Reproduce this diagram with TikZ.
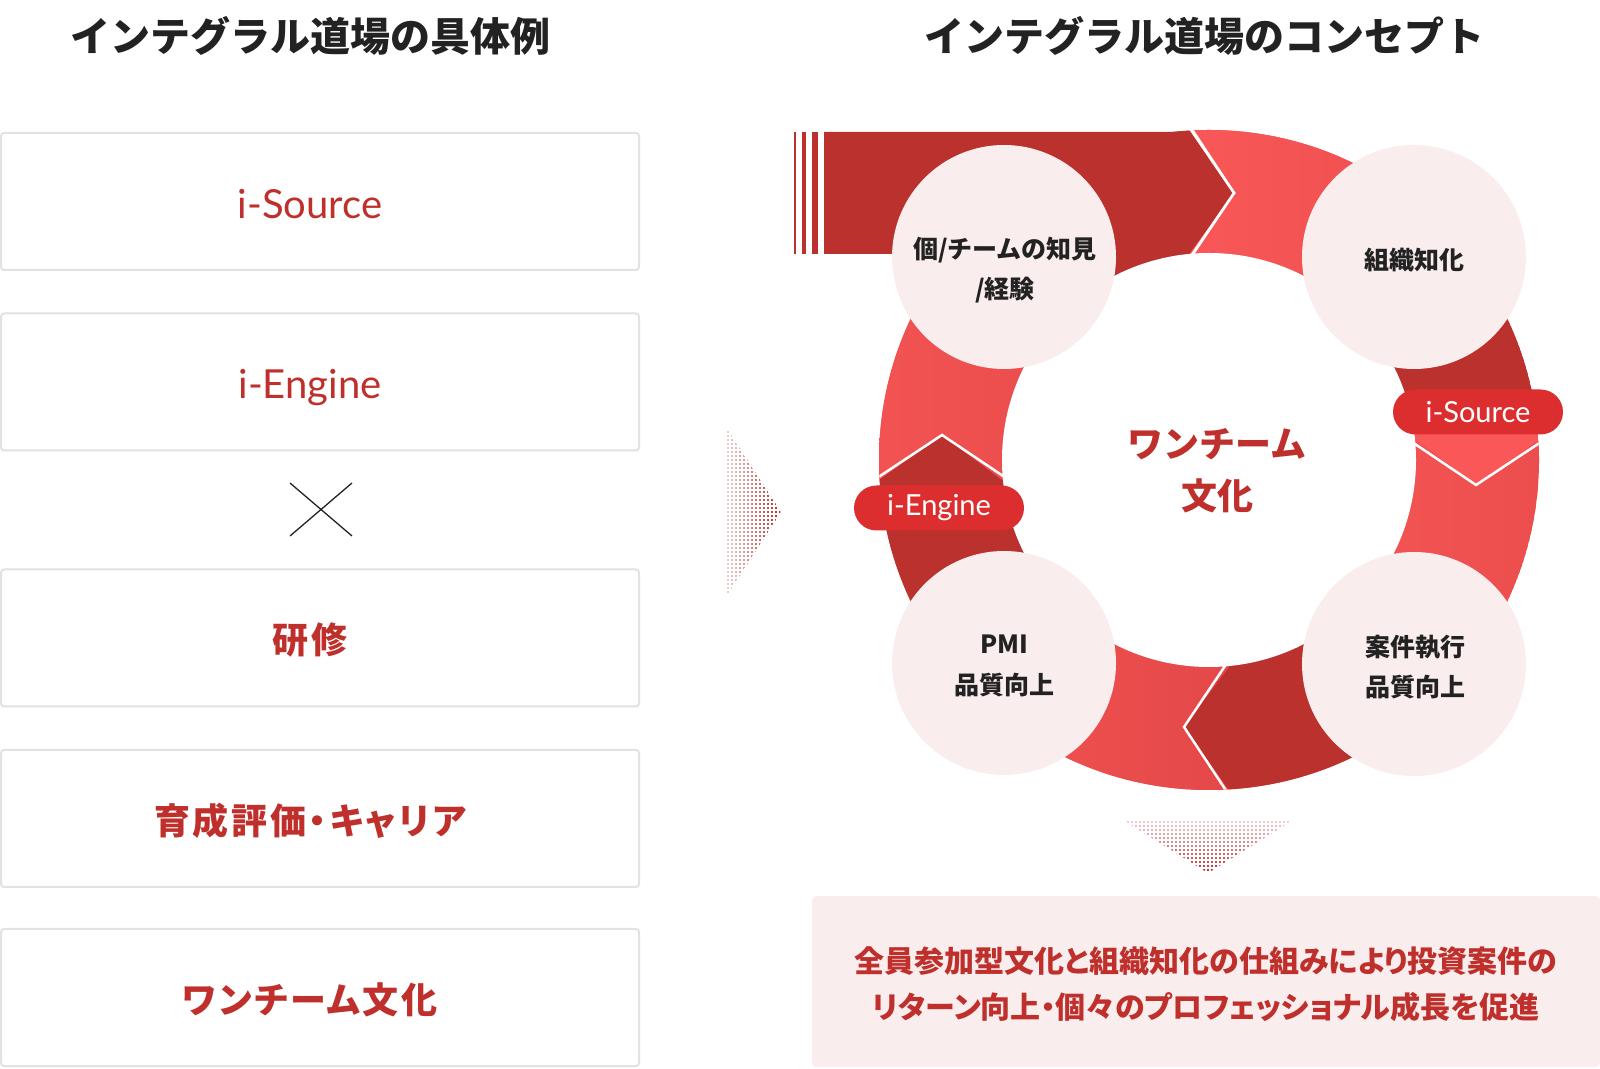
\documentclass[tikz,border=0pt]{standalone}
\usepackage{fontspec}
\setmainfont{Noto Sans CJK JP}
\newfontfamily\jpfont{Noto Sans CJK JP}
\newfontfamily\jppfont{Noto Sans CJK JP}[RawFeature=+palt]
\newfontfamily\jpsfont{Noto Sans CJK JP}[RawFeature=+palt, LetterSpace=7.5]
\newfontfamily\latinfont{Lato}
\usepackage{xcolor}
\usepackage{tikz}
\usetikzlibrary{calc,positioning}

\definecolor{ringdark}{HTML}{BB312D}
\definecolor{ringlight}{HTML}{FA5858}
\definecolor{ringmid}{HTML}{E44848}
\definecolor{pillred}{HTML}{DC2E2E}
\definecolor{textred}{HTML}{BF2F2B}
\definecolor{pinkbg}{HTML}{F9EEED}
\definecolor{boxline}{HTML}{E2E2E2}
\definecolor{inkdark}{HTML}{222222}

\tikzset{
  heading/.style={font=\jpfont\bfseries\fontsize{40}{48}\selectfont, text=inkdark, inner sep=0},
  item/.style={draw=boxline, line width=2, fill=white, rounded corners=3, minimum width=638, minimum height=137, inner sep=0},
  itemtext/.style={font=\jpsfont\bfseries\fontsize{36}{44}\selectfont, text=textred, inner sep=0},
  itemlatin/.style={font=\latinfont\fontsize{40}{48}\selectfont, text=textred, inner sep=0},
  stage/.style={circle, fill=pinkbg, minimum size=224, inner sep=0},
  stagetext/.style={font=\jpfont\bfseries\fontsize{25}{40.5}\selectfont, text=inkdark, align=center, inner sep=0},
  pill/.style={fill=pillred, rounded corners=22.5, minimum width=170, minimum height=45, inner sep=0, text=white, font=\latinfont\fontsize{29}{34}\selectfont},
  core/.style={font=\jpfont\bfseries\fontsize{36}{52}\selectfont, text=textred, align=center, inner sep=0},
  note/.style={fill=pinkbg, rounded corners=4, minimum width=788, minimum height=171, inner sep=0},
  notetext/.style={align=center, text=textred, inner sep=0, font=\jppfont\bfseries\fontsize{30}{46}\selectfont},
  dotline/.style={textred, line width=2.2, dash pattern=on 2.2pt off 1.8pt},
  chevron/.style={white, line width=2.5, line join=miter},
}

\begin{document}
\begin{tikzpicture}[x=1pt,y=1pt]

\useasboundingbox (0,0) rectangle (1600,1068);

% headings
\node[heading] (lefttitle) at (310,1032) {インテグラル道場の具体例};
\node[heading] (righttitle) at (1204,1032) {インテグラル道場のコンセプト};

% left column
\node[item] (srcbox) at (320,866.5) {};
\node[item] (engbox) at (320,686) {};
\node[item] (trainbox) at (320,430) {};
\node[item] (careerbox) at (320,249.5) {};
\node[item] (teambox) at (320,70.5) {};

\node[itemlatin] (srctxt) at ([xshift=-10,yshift=-3]srcbox.center) {i-Source};
\node[itemlatin] (engtxt) at ([xshift=-10,yshift=-6]engbox.center) {i-Engine};
\node[itemtext] (traintxt) at ([xshift=-10,yshift=-2]trainbox.center) {研修};
\node[itemtext] (careertxt) at ([xshift=-10,yshift=-2]careerbox.center) {育成評価・キャリア};
\node[itemtext] (teamtxt) at ([xshift=-10,yshift=-2]teambox.center) {ワンチーム文化};

\draw[inkdark, line width=1.3] (290,585) -- (352,532); % cross
\draw[inkdark, line width=1.3] (290,532) -- (352,585);

% dotted arrow to the right
\begin{scope}
  \clip (726,641) -- (781,556) -- (726,471) -- cycle;
  \foreach \i [evaluate=\i as \op using 0.25+0.06*\i] in {0,...,13}
    \draw[dotline, draw opacity=\op] (728+4*\i,471) -- (728+4*\i,641);
\end{scope}

% dotted arrow downwards
\begin{scope}
  \clip (1123,248) -- (1293,248) -- (1208,195) -- cycle;
  \foreach \i [evaluate=\i as \op using 0.25+0.06*\i] in {0,...,13}
    \draw[dotline, draw opacity=\op] (1123,246-4*\i) -- (1293,246-4*\i);
\end{scope}

% ring
\begin{scope}[shift={(1209,608)}]
  \begin{scope}
    \clip (0,0) circle (330);
    \fill[ringlight] (0,0) circle (330);
    \foreach \k/\tip/\base in {0/25/-20,1/-27/-27,2/25/-20,3/25/-20}{
      \begin{scope}[rotate=-90*\k]
        \shade[top color=ringlight, bottom color=ringmid, shading angle=90]
          (0,0) -- (-20,150) -- (-20,207) -- (25,267) -- (-20,330) -- (-20,520) -- (45:520) -- cycle;
        \fill[ringdark]
          (0,0) -- (135:520) -- (\base,520) -- (\base,330) -- (\tip,267) -- (\base,207) -- (\base,150) -- cycle;
        \draw[chevron] (-20,335) -- (25,267) -- (-20,200);
      \end{scope}
    }
  \end{scope}
  \fill[white] (0,0) circle (207);

  % band with stripes
  \fill[ringdark] (-385,328) -- (-20,328) -- (25,267) -- (-20,206) -- (-385,206) -- cycle;
  \foreach \a/\b in {-415/-413,-407/-403,-397/-391}
    \fill[ringdark] (\a,206) rectangle (\b,328);
  \draw[chevron] (-20,333) -- (25,267) -- (-20,201);

  % stages
  \node[stage] (know) at (-205,203) {};
  \node[stage] (org) at (205,203) {};
  \node[stage] (pmi) at (-205,-203) {};
  \node[stage] (deal) at (205,-204) {};

  \node[stagetext] (knowtxt) at (-204,190) {個/チームの知見\\/経験};
  \node[stagetext] (orgtxt) at (205,200) {組織知化};
  \node[stagetext] (pmitxt) at (-205,-206) {PMI\\品質向上};
  \node[stagetext] (dealtxt) at (206,-207) {案件執行\\品質向上};

  \node[pill] (srcpill) at (269,48) {i-Source};
  \node[pill] (engpill) at (-270,-48) {i-Engine};

  \node[core] (culture) at (8,-11) {ワンチーム\\文化};
\end{scope}

% result box
\node[note] (goal) at (1206,86.5) {};
\node[notetext] (goaltxt) at ([yshift=-3]goal.center) {全員参加型文化と組織知化の仕組みにより投資案件の\\リターン向上・個々のプロフェッショナル成長を促進};

\end{tikzpicture}
\end{document}
